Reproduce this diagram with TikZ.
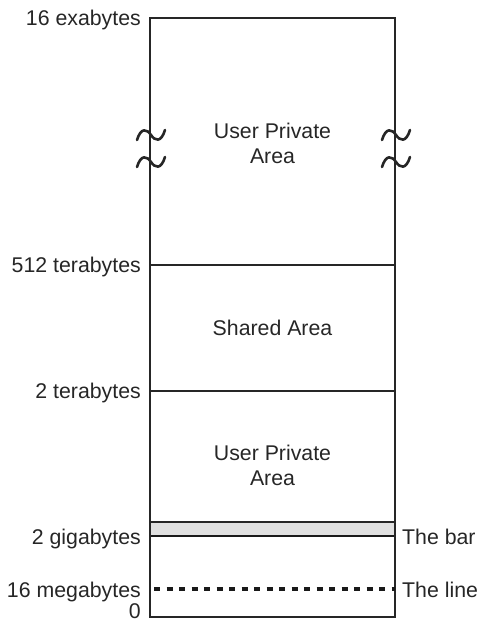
\documentclass[tikz,border=0pt]{standalone}
\usepackage{fontspec}
\setmainfont{Liberation Sans}
\begin{document}
\begin{tikzpicture}[x=1pt,y=-1pt,
  every node/.style={font=\fontsize{21.3}{25}\selectfont, text=black!85, inner sep=0pt},
  lefttag/.style={anchor=base east},
  righttag/.style={anchor=base west},
  area/.style={align=center, anchor=center},
  boxline/.style={line width=1.6pt, black!85},
  squig/.style={line width=2.6pt, black!85, line cap=round}]
\useasboundingbox (0,0) rectangle (478,622);
% corners
\coordinate (TL) at (150,18);
\coordinate (TR) at (395,18);
\coordinate (BL) at (150,617);
\coordinate (BR) at (395,617);
% boundaries
\coordinate (L512) at (150,265); \coordinate (R512) at (395,265);
\coordinate (L2t) at (150,391);  \coordinate (R2t) at (395,391);
\coordinate (Lbt) at (150,522);  \coordinate (Rbt) at (395,522);
\coordinate (L2g) at (150,536);  \coordinate (R2g) at (395,536);
\coordinate (L16) at (150,589);  \coordinate (R16) at (395,589);
% bar
\fill[black!12] (Lbt) rectangle (R2g);
\draw[line width=1.4pt, black!85] (Lbt) -- (Rbt);
\draw[line width=2.2pt, black!90] (L2g) -- (R2g);
% box
\draw[boxline] (TL) rectangle (BR);
\draw[line width=1.4pt, black!85] (L512) -- (R512);
\draw[line width=1.4pt, black!85] (L2t) -- (R2t);
\draw[line width=3.2pt, black!90, dash pattern=on 6pt off 6.5pt] ([xshift=4pt]L16) -- (R16);
% squiggles
\foreach \cx in {151,396}{
  \foreach \cy in {135,162}{
    \draw[squig] (\cx-14,\cy+5) .. controls (\cx-10,\cy-8) and (\cx-4,\cy-6) .. (\cx,\cy)
      .. controls (\cx+4,\cy+6) and (\cx+10,\cy+8) .. (\cx+14,\cy-5);
  }
}
% left labels
\node[lefttag] (t16e) at (141,25.5) {16 exabytes};
\node[lefttag] (t512) at (141,272.5) {512 terabytes};
\node[lefttag] (t2t) at (141,398.5) {2 terabytes};
\node[lefttag] (t2g) at (141,544) {2 gigabytes};
\node[lefttag] (t16m) at (141,597) {16 megabytes};
\node[lefttag] (t0) at (141,618) {0};
% right labels
\node[righttag] (tbar) at (402,544) {The bar};
\node[righttag] (tline) at (402,597) {The line};
% areas
\node[area] (upa1) at (272.5,143) {User Private\\Area};
\node[area] (sha) at (272.5,328) {Shared Area};
\node[area] (upa2) at (272.5,465) {User Private\\Area};
\end{tikzpicture}
\end{document}
